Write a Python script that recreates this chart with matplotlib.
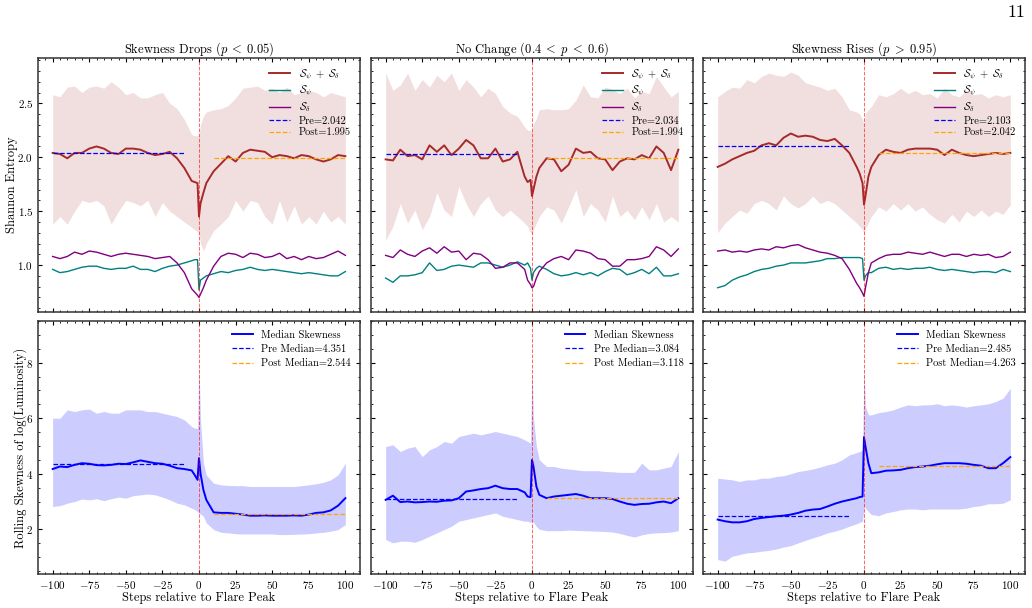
import matplotlib
matplotlib.use('Agg')
import matplotlib.pyplot as plt
from matplotlib.ticker import AutoMinorLocator, MultipleLocator

# ---------------- data ----------------
steps = [-100, -95, -90, -85, -80, -75, -70, -65, -60, -55, -50, -45, -40, -35, -30,
         -25, -20, -15, -10, -5, -3, -1, 0, 1, 3, 5, 10, 15, 20, 25, 30, 35, 40,
         45, 50, 55, 60, 65, 70, 75, 80, 85, 90, 95, 100]

titles = [r"Skewness Drops ($p\;<\;0.05$)", r"No Change ($0.4\;<\;p\;<\;0.6$)",
          r"Skewness Rises ($p\;>\;0.95$)"]

# top row: total entropy, upper/lower band, S_psi, S_delta
total_drops = [2.04, 2.03, 1.99, 2.04, 2.04, 2.08, 2.10, 2.08, 2.04, 2.03, 2.08, 2.08, 2.07, 2.04, 2.02,
               2.03, 2.05, 1.99, 1.90, 1.78, 1.77, 1.76, 1.45, 1.57, 1.67, 1.76, 1.87, 1.94, 2.01, 1.96,
               2.04, 2.07, 2.06, 2.05, 2.00, 2.02, 2.01, 1.99, 2.02, 2.01, 1.98, 1.96, 1.98, 2.02, 2.01]
upper_drops = [2.58, 2.56, 2.65, 2.66, 2.60, 2.65, 2.66, 2.64, 2.70, 2.65, 2.58, 2.60, 2.55, 2.55, 2.58,
               2.60, 2.50, 2.45, 2.35, 2.21, 2.20, 2.20, 2.20, 2.30, 2.38, 2.42, 2.44, 2.45, 2.48, 2.55,
               2.64, 2.65, 2.66, 2.62, 2.64, 2.60, 2.65, 2.58, 2.60, 2.62, 2.60, 2.56, 2.60, 2.58, 2.56]
lower_drops = [1.38, 1.45, 1.38, 1.50, 1.60, 1.58, 1.60, 1.55, 1.38, 1.50, 1.60, 1.58, 1.55, 1.60, 1.45,
               1.58, 1.50, 1.45, 1.40, 1.35, 1.33, 1.31, 1.30, 1.20, 1.13, 1.20, 1.32, 1.38, 1.45, 1.60,
               1.50, 1.60, 1.58, 1.45, 1.38, 1.60, 1.40, 1.55, 1.38, 1.45, 1.38, 1.50, 1.40, 1.45, 1.38]
spsi_drops = [0.96, 0.93, 0.94, 0.96, 0.98, 0.99, 0.99, 0.97, 0.96, 0.97, 0.97, 0.99, 0.96, 0.96, 0.94,
              0.97, 0.99, 1.00, 1.02, 1.04, 1.05, 1.05, 0.77, 0.86, 0.88, 0.90, 0.92, 0.94, 0.93, 0.95,
              0.96, 0.98, 0.96, 0.95, 0.96, 0.95, 0.94, 0.93, 0.92, 0.93, 0.92, 0.91, 0.90, 0.90, 0.94]
sdel_drops = [1.08, 1.06, 1.08, 1.12, 1.10, 1.13, 1.12, 1.10, 1.08, 1.10, 1.11, 1.10, 1.09, 1.08, 1.06,
              1.07, 1.08, 1.02, 0.93, 0.78, 0.75, 0.72, 0.70, 0.73, 0.79, 0.86, 0.99, 1.08, 1.11, 1.10,
              1.07, 1.11, 1.10, 1.07, 1.08, 1.11, 1.06, 1.08, 1.05, 1.08, 1.06, 1.07, 1.10, 1.13, 1.09]

total_none = [1.98, 1.97, 2.07, 2.01, 2.02, 1.98, 2.11, 2.05, 2.11, 2.02, 2.08, 2.16, 2.11, 1.99, 1.99,
              2.08, 1.96, 1.98, 2.05, 1.82, 1.77, 1.79, 1.64, 1.70, 1.82, 1.90, 1.99, 1.98, 1.87, 1.93,
              2.08, 2.04, 2.05, 1.99, 1.98, 1.88, 1.96, 1.99, 1.98, 2.02, 1.99, 2.10, 2.04, 1.88, 2.07]
upper_none = [2.78, 2.62, 2.67, 2.78, 2.62, 2.72, 2.65, 2.76, 2.70, 2.78, 2.62, 2.72, 2.65, 2.56, 2.64,
              2.59, 2.47, 2.41, 2.38, 2.28, 2.25, 2.25, 2.25, 2.31, 2.36, 2.44, 2.45, 2.44, 2.44, 2.45,
              2.53, 2.67, 2.56, 2.55, 2.65, 2.63, 2.59, 2.64, 2.55, 2.61, 2.59, 2.75, 2.65, 2.56, 2.61]
lower_none = [1.23, 1.36, 1.57, 1.39, 1.51, 1.33, 1.45, 1.67, 1.51, 1.45, 1.73, 1.57, 1.45, 1.57, 1.64,
              1.51, 1.45, 1.51, 1.45, 1.39, 1.36, 1.30, 1.28, 1.33, 1.39, 1.45, 1.54, 1.51, 1.39, 1.54,
              1.70, 1.45, 1.57, 1.51, 1.40, 1.64, 1.45, 1.51, 1.42, 1.54, 1.42, 1.57, 1.40, 1.45, 1.40]
spsi_none = [0.88, 0.84, 0.90, 0.90, 0.91, 0.93, 1.02, 0.95, 0.96, 0.99, 1.00, 0.99, 0.98, 1.02, 1.02,
             1.00, 0.98, 1.00, 1.03, 1.00, 1.02, 0.97, 0.86, 0.93, 0.97, 0.99, 0.96, 0.92, 0.90, 0.91,
             0.93, 0.91, 0.93, 0.90, 0.94, 0.97, 0.96, 0.91, 0.93, 0.96, 0.92, 0.98, 0.90, 0.90, 0.92]
sdel_none = [1.09, 1.07, 1.14, 1.10, 1.08, 1.13, 1.16, 1.11, 1.17, 1.12, 1.13, 1.05, 1.11, 1.10, 1.05,
             0.97, 0.98, 1.02, 1.02, 0.96, 0.86, 0.82, 0.79, 0.80, 0.88, 0.94, 1.02, 1.06, 1.08, 1.05,
             1.14, 1.13, 1.11, 1.06, 1.05, 0.99, 0.99, 1.05, 1.05, 1.06, 1.08, 1.17, 1.14, 1.08, 1.15]

total_rises = [1.91, 1.94, 1.98, 2.01, 2.04, 2.06, 2.11, 2.13, 2.11, 2.18, 2.22, 2.19, 2.20, 2.19, 2.16,
               2.15, 2.17, 2.11, 2.04, 1.91, 1.85, 1.76, 1.56, 1.64, 1.82, 1.91, 2.02, 2.07, 2.05, 2.04,
               2.07, 2.08, 2.08, 2.08, 2.07, 2.02, 2.07, 2.04, 2.02, 2.01, 2.02, 2.03, 2.04, 2.03, 2.04]
upper_rises = [2.56, 2.61, 2.65, 2.64, 2.72, 2.69, 2.75, 2.78, 2.76, 2.75, 2.79, 2.76, 2.69, 2.67, 2.65,
               2.62, 2.64, 2.56, 2.44, 2.42, 2.40, 2.35, 2.31, 2.41, 2.44, 2.47, 2.58, 2.56, 2.59, 2.64,
               2.59, 2.62, 2.58, 2.59, 2.55, 2.64, 2.58, 2.56, 2.62, 2.58, 2.59, 2.55, 2.58, 2.56, 2.58]
lower_rises = [1.30, 1.39, 1.45, 1.51, 1.48, 1.57, 1.60, 1.57, 1.51, 1.64, 1.57, 1.53, 1.57, 1.64, 1.57,
               1.60, 1.57, 1.51, 1.45, 1.39, 1.36, 1.33, 1.28, 1.34, 1.39, 1.45, 1.54, 1.50, 1.57, 1.51,
               1.57, 1.50, 1.54, 1.47, 1.42, 1.39, 1.47, 1.40, 1.50, 1.45, 1.51, 1.45, 1.50, 1.47, 1.56]
spsi_rises = [0.79, 0.81, 0.86, 0.89, 0.91, 0.94, 0.96, 0.97, 0.99, 1.00, 1.02, 1.02, 1.02, 1.03, 1.04,
              1.06, 1.06, 1.07, 1.07, 1.07, 1.07, 1.06, 0.86, 0.90, 0.93, 0.93, 0.97, 0.98, 0.96, 0.97,
              0.96, 0.97, 0.97, 0.98, 0.96, 0.95, 0.96, 0.95, 0.94, 0.93, 0.94, 0.94, 0.93, 0.96, 0.94]
sdel_rises = [1.13, 1.14, 1.12, 1.13, 1.12, 1.14, 1.15, 1.14, 1.17, 1.16, 1.18, 1.19, 1.16, 1.14, 1.12,
              1.11, 1.09, 1.06, 0.96, 0.83, 0.79, 0.74, 0.71, 0.79, 0.93, 1.02, 1.06, 1.09, 1.10, 1.10,
              1.12, 1.11, 1.10, 1.12, 1.10, 1.08, 1.10, 1.10, 1.08, 1.10, 1.09, 1.10, 1.07, 1.08, 1.12]

pre_entropy = [2.042, 2.034, 2.103]
post_entropy = [1.995, 1.994, 2.042]

# bottom row: median skewness and band
med_drops = [4.17, 4.26, 4.24, 4.32, 4.38, 4.36, 4.31, 4.30, 4.32, 4.36, 4.35, 4.41, 4.48, 4.43, 4.38,
             4.36, 4.29, 4.20, 4.17, 4.12, 3.96, 3.78, 4.56, 4.02, 3.42, 3.06, 2.61, 2.59, 2.59, 2.56,
             2.53, 2.49, 2.49, 2.50, 2.49, 2.49, 2.49, 2.50, 2.49, 2.53, 2.59, 2.61, 2.68, 2.85, 3.12]
skup_drops = [6.00, 6.00, 6.30, 6.24, 6.30, 6.33, 6.18, 6.24, 6.18, 6.18, 6.30, 6.30, 6.30, 6.24, 6.24,
              6.18, 6.12, 6.06, 5.94, 5.70, 5.64, 5.64, 8.00, 6.00, 4.40, 3.95, 3.66, 3.60, 3.58, 3.57,
              3.57, 3.54, 3.54, 3.54, 3.54, 3.54, 3.54, 3.54, 3.57, 3.60, 3.64, 3.69, 3.78, 3.96, 4.38]
sklo_drops = [2.82, 2.85, 2.94, 3.00, 3.09, 3.06, 3.10, 3.03, 3.10, 3.16, 3.12, 3.21, 3.24, 3.27, 3.24,
              3.16, 3.06, 2.94, 2.88, 2.76, 2.71, 2.64, 2.59, 2.55, 2.47, 2.23, 1.99, 1.89, 1.87, 1.84,
              1.83, 1.83, 1.83, 1.83, 1.83, 1.81, 1.81, 1.82, 1.83, 1.84, 1.87, 1.89, 1.93, 1.99, 2.17]

med_none = [3.06, 3.21, 2.98, 3.00, 2.97, 2.98, 3.00, 2.99, 3.03, 3.04, 3.12, 3.36, 3.40, 3.45, 3.48,
            3.57, 3.48, 3.45, 3.45, 3.33, 3.18, 3.16, 4.50, 4.26, 3.54, 3.24, 3.12, 3.18, 3.21, 3.24,
            3.27, 3.21, 3.12, 3.12, 3.12, 3.09, 3.00, 2.92, 2.88, 2.91, 2.92, 2.97, 3.00, 2.94, 3.12]
skup_none = [4.98, 5.04, 4.80, 4.92, 4.98, 4.62, 4.86, 4.98, 5.16, 5.10, 5.34, 5.40, 5.46, 5.40, 5.46,
             5.52, 5.46, 5.40, 5.34, 5.22, 5.16, 5.10, 7.86, 6.00, 4.98, 4.50, 4.26, 4.26, 4.20, 4.17,
             4.14, 4.11, 4.11, 4.11, 4.08, 4.07, 4.05, 4.05, 4.05, 4.38, 4.14, 4.14, 4.20, 4.26, 4.80]
sklo_none = [1.63, 1.51, 1.57, 1.57, 1.53, 1.63, 1.75, 1.87, 1.99, 2.11, 2.29, 2.35, 2.41, 2.47, 2.53,
             2.59, 2.47, 2.41, 2.35, 2.29, 2.29, 2.25, 2.30, 2.25, 2.10, 2.00, 1.95, 1.95, 1.95, 1.97,
             1.96, 1.95, 1.94, 1.93, 1.92, 1.90, 1.85, 1.78, 1.72, 1.80, 1.85, 1.87, 1.88, 1.90, 1.95]

med_rises = [2.35, 2.29, 2.25, 2.25, 2.29, 2.37, 2.41, 2.44, 2.47, 2.49, 2.53, 2.59, 2.67, 2.71, 2.73,
             2.82, 2.92, 3.00, 3.06, 3.12, 3.16, 3.18, 5.32, 4.98, 4.38, 4.02, 4.05, 4.11, 4.12, 4.14,
             4.20, 4.24, 4.26, 4.29, 4.34, 4.38, 4.38, 4.38, 4.36, 4.32, 4.29, 4.20, 4.20, 4.38, 4.60]
skup_rises = [3.84, 3.81, 3.78, 3.72, 3.78, 3.78, 3.84, 3.84, 3.90, 3.93, 4.00, 4.08, 4.12, 4.17, 4.24,
              4.32, 4.38, 4.50, 4.68, 4.76, 4.80, 4.86, 7.86, 6.42, 6.12, 6.12, 6.20, 6.24, 6.30, 6.40,
              6.48, 6.45, 6.48, 6.48, 6.52, 6.45, 6.48, 6.45, 6.40, 6.45, 6.48, 6.52, 6.60, 6.72, 7.08]
sklo_rises = [0.91, 0.85, 1.03, 1.09, 1.15, 1.17, 1.21, 1.24, 1.29, 1.36, 1.41, 1.51, 1.60, 1.69, 1.77,
              1.87, 1.93, 2.01, 2.11, 2.20, 2.25, 2.29, 2.82, 2.76, 2.64, 2.53, 2.49, 2.59, 2.64, 2.70,
              2.73, 2.73, 2.70, 2.73, 2.73, 2.73, 2.73, 2.73, 2.76, 2.82, 2.85, 2.92, 2.92, 2.94, 3.06]

pre_skew = [4.351, 3.084, 2.485]
post_skew = [2.544, 3.118, 4.263]

pre_range = [-100, -10]
post_range = [10, 100]

top_data = [
    (total_drops, upper_drops, lower_drops, spsi_drops, sdel_drops),
    (total_none, upper_none, lower_none, spsi_none, sdel_none),
    (total_rises, upper_rises, lower_rises, spsi_rises, sdel_rises),
]
bot_data = [
    (med_drops, skup_drops, sklo_drops),
    (med_none, skup_none, sklo_none),
    (med_rises, skup_rises, sklo_rises),
]

# ---------------- style ----------------
plt.rcParams.update({
    'font.family': 'serif',
    'font.serif': ['cmr10', 'DejaVu Serif'],
    'mathtext.fontset': 'cm',
    'axes.formatter.use_mathtext': True,
    'axes.unicode_minus': True,
    'xtick.direction': 'in', 'ytick.direction': 'in',
    'xtick.top': True, 'ytick.right': True,
    'xtick.major.size': 3, 'ytick.major.size': 3,
    'xtick.minor.size': 1.5, 'ytick.minor.size': 1.5,
    'xtick.labelsize': 8, 'ytick.labelsize': 8,
    'axes.linewidth': 1.1, 'axes.edgecolor': '#333333',
    'axes.labelsize': 9, 'axes.titlesize': 9,
    'legend.fontsize': 7.5,
})

C_TOT = '#a52a2a'
C_PSI = '#008080'
C_DEL = '#800080'

fig = plt.figure(figsize=(10.32, 6.08), dpi=100)
lefts = [38 / 1032, 371 / 1032, 703 / 1032]
w = 322 / 1032
top_b, top_h = 1 - 312 / 608, 254 / 608
bot_b, bot_h = 1 - 574 / 608, 253 / 608

axes_top, axes_bot = [], []
for i in range(3):
    at = fig.add_axes([lefts[i], top_b, w, top_h],
                      sharey=axes_top[0] if axes_top else None)
    ab = fig.add_axes([lefts[i], bot_b, w, bot_h], sharex=at,
                      sharey=axes_bot[0] if axes_bot else None)
    axes_top.append(at)
    axes_bot.append(ab)

for i in range(3):
    at, ab = axes_top[i], axes_bot[i]
    tot, up, lo, psi, dl = top_data[i]
    at.fill_between(steps, lo, up, color=C_TOT, alpha=0.15, lw=0)
    at.plot(steps, tot, color=C_TOT, lw=1.4,
            label=r'$\mathcal{S}_\psi\;+\;\mathcal{S}_\delta$')
    at.plot(steps, psi, color=C_PSI, lw=1.0, label=r'$\mathcal{S}_\psi$')
    at.plot(steps, dl, color=C_DEL, lw=1.0, label=r'$\mathcal{S}_\delta$')
    at.plot(pre_range, [pre_entropy[i]] * 2, color='blue', ls='--', lw=0.9,
            label=f'Pre={pre_entropy[i]:.3f}')
    at.plot(post_range, [post_entropy[i]] * 2, color='orange', ls='--', lw=0.9,
            label=f'Post={post_entropy[i]:.3f}')
    at.axvline(0, color='red', ls='--', lw=0.7, alpha=0.6)
    at.set_title(titles[i], pad=4)
    at.legend(loc='upper right', frameon=False, labelspacing=0.2)
    at.tick_params(labelbottom=False)

    med, sup, slo = bot_data[i]
    ab.fill_between(steps, slo, sup, color='blue', alpha=0.2, lw=0)
    ab.plot(steps, med, color='blue', lw=1.4, label='Median Skewness')
    ab.plot(pre_range, [pre_skew[i]] * 2, color='blue', ls='--', lw=0.9,
            label=f'Pre Median={pre_skew[i]:.3f}')
    ab.plot(post_range, [post_skew[i]] * 2, color='orange', ls='--', lw=0.9,
            label=f'Post Median={post_skew[i]:.3f}')
    ab.axvline(0, color='red', ls='--', lw=0.7, alpha=0.6)
    ab.legend(loc='upper right', frameon=False, labelspacing=0.45)
    ab.set_xlabel('Steps relative to Flare Peak', labelpad=0.5)

    for ax in (at, ab):
        ax.xaxis.set_major_locator(MultipleLocator(25))
        ax.xaxis.set_minor_locator(AutoMinorLocator(5))
        ax.yaxis.set_minor_locator(AutoMinorLocator())
        if i > 0:
            ax.tick_params(labelleft=False)

axes_top[0].set_xlim(-110, 110)
axes_top[0].set_ylim(0.565, 2.92)
axes_top[0].yaxis.set_major_locator(MultipleLocator(0.5))
axes_bot[0].set_ylim(0.39, 9.5)
axes_bot[0].yaxis.set_major_locator(MultipleLocator(2))
axes_top[0].set_ylabel('Shannon Entropy', labelpad=-0.5)
axes_bot[0].set_ylabel('Rolling Skewness of log(Luminosity)', labelpad=-0.5)

fig.text(0.993, 0.979, '11', ha='right', va='center', fontsize=13)

fig.savefig('out.png', dpi=100)
